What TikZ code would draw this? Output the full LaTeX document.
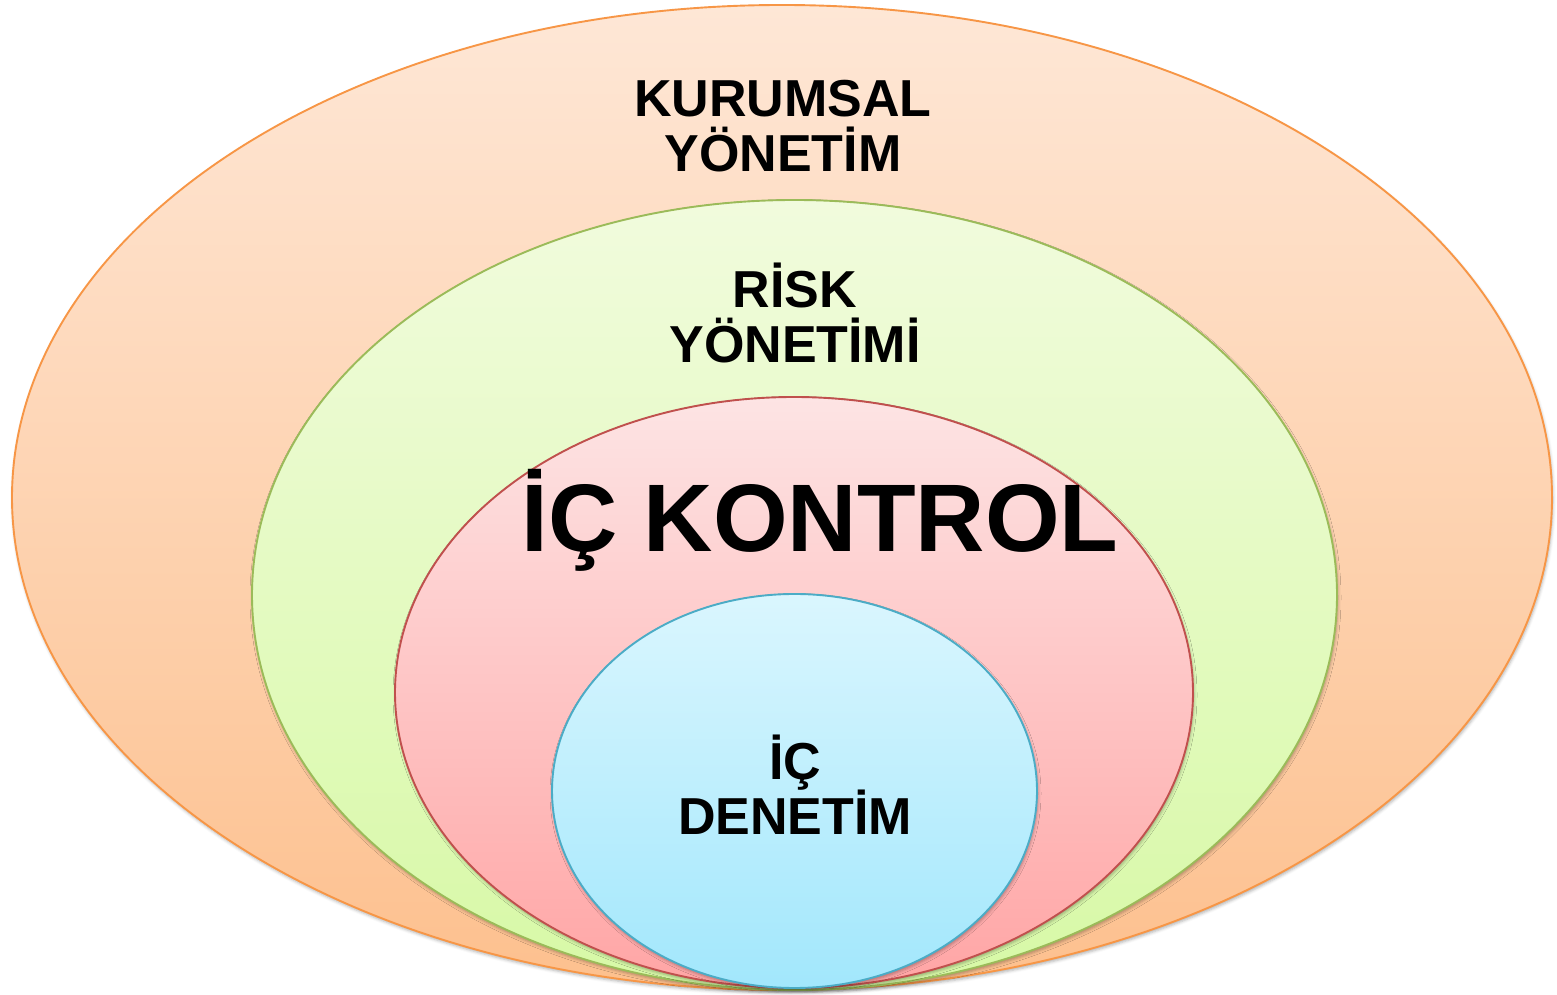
\documentclass[tikz,border=0pt]{standalone}
\usepackage{fontspec}
\setmainfont{Liberation Sans}
\usetikzlibrary{shadows.blur}
\definecolor{orgline}{HTML}{F79646}
\definecolor{orgtop}{HTML}{FEE7D6}
\definecolor{orgbot}{HTML}{FDC08E}
\definecolor{grnline}{HTML}{9BBB59}
\definecolor{grntop}{HTML}{F1FBDD}
\definecolor{grnbot}{HTML}{D7F9A6}
\definecolor{redline}{HTML}{C0504D}
\definecolor{redtop}{HTML}{FDE4E4}
\definecolor{redbot}{HTML}{FFA5A5}
\definecolor{bluline}{HTML}{4BACC6}
\definecolor{blutop}{HTML}{DAF6FE}
\definecolor{blubot}{HTML}{A2E7FC}
\tikzset{
  ring/.style={line width=1.9pt, blur shadow={shadow xshift=1pt, shadow yshift=-2.5pt, shadow blur radius=3pt, shadow opacity=30}},
  label/.style={font=\fontsize{52}{55}\selectfont\bfseries, align=center, inner sep=0pt, anchor=base},
}
\begin{document}
\begin{tikzpicture}[x=1pt,y=1pt]
\useasboundingbox (0,0) rectangle (1557,995);
% nested sets, outermost first
\path[ring, draw=orgline, top color=orgtop, bottom color=orgbot] (782,497.5) ellipse [x radius=770, y radius=492.5];
\path[ring, draw=grnline, top color=grntop, bottom color=grnbot] (794.5,400) ellipse [x radius=542.5, y radius=395];
\path[ring, draw=redline, top color=redtop, bottom color=redbot] (794,302.5) ellipse [x radius=399, y radius=295.5];
\path[ring, draw=bluline, top color=blutop, bottom color=blubot] (794.5,204) ellipse [x radius=242.5, y radius=197];
% labels
\node[label] (kur1) at (783,878) {KURUMSAL};
\node[label] (kur2) at (783,823) {YÖNETİM};
\node[label] (risk1) at (795,687) {RİSK};
\node[label] (risk2) at (795,632) {YÖNETİMİ};
\node[label, font=\fontsize{96}{100}\selectfont\bfseries] (ick) at (820,443) {İÇ KONTROL};
\node[label] (icd1) at (795,215) {İÇ};
\node[label] (icd2) at (795,160) {DENETİM};
\end{tikzpicture}
\end{document}
